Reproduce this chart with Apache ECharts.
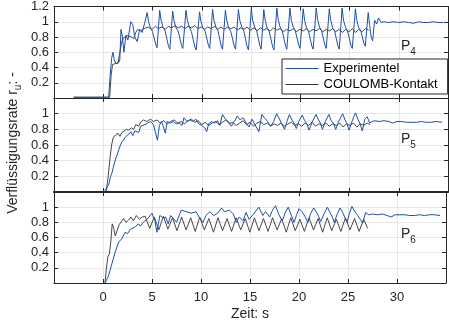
<!DOCTYPE html>
<html><head><meta charset="utf-8">
<script src="https://cdn.jsdelivr.net/npm/echarts@6/dist/echarts.min.js"></script>
<style>html,body{margin:0;padding:0;background:#fff}#c{width:449px;height:322px}</style>
</head><body><div id="c"></div>
<script>
// ---------- data (time in s, ratio r_u) ----------
const xTicks = [0, 5, 10, 15, 20, 25, 30];
const panelLabels = ['4', '5', '6'];
const seriesNames = ['Experimentel', 'COULOMB-Kontakt'];

// P4 experimental
const p4ExpT = [-3,0.55,0.7,0.85,0.98,1.12,1.3,1.55,1.68,1.8,1.95,2.1,2.3,2.5,2.8,3.0,3.2,3.45,3.7,3.95,4.2,4.46,
 4.6,4.8,5.0,5.2,5.34,5.46,5.73, 5.87,6.07,6.28,6.48,6.62,6.76,7.05, 7.19,7.39,7.6,7.8,7.95,8.08,8.4,
 8.54,8.74,8.95,9.15,9.3,9.44,9.78, 9.92,10.12,10.33,10.53,10.68,10.81,11.1, 11.24,11.44,11.65,11.85,11.98,12.11,12.4,
 12.54,12.74,12.95,13.15,13.3,13.43,13.72, 13.86,14.06,14.27,14.47,14.61,14.74,15.03, 15.17,15.37,15.58,15.78,15.91,16.03,16.3,
 16.44,16.64,16.85,17.05,17.2,17.33,17.62, 17.76,17.96,18.17,18.37,18.51,18.64,18.95, 19.09,19.29,19.5,19.7,19.86,19.98,20.3,
 20.44,20.64,20.85,21.05,21.18,21.31,21.62, 21.76,21.96,22.17,22.37,22.51,22.64,22.95, 23.09,23.29,23.5,23.7,23.83,23.96,24.25,
 24.39,24.59,24.8,25.0,25.15,25.28,25.6, 25.74,25.94,26.15,26.35,26.48,26.6,26.9,
 27.05,27.2,27.35,27.55,27.75,27.95,28.2,28.5, 29,29.5,30,30.5,31,31.5,32,32.5,33,33.5,34,34.5];
const p4ExpV = [0.01,0.01,0.3,0.52,0.6,0.5,0.45,0.46,0.5,0.9,0.8,0.6,0.82,0.76,1.0,0.96,0.8,0.74,0.9,0.86,0.98,1.12,
 1.0,0.92,0.87,0.86,0.7,0.66,1.15, 1.02,0.93,0.88,0.87,0.68,0.64,1.14, 1.01,0.92,0.88,0.88,0.69,0.65,1.15,
 1.02,0.93,0.87,0.87,0.67,0.63,1.13, 1.0,0.92,0.88,0.88,0.69,0.65,1.16, 1.02,0.93,0.88,0.87,0.68,0.64,1.15,
 1.02,0.92,0.87,0.87,0.68,0.64,1.16, 1.02,0.93,0.88,0.88,0.67,0.63,1.17, 1.02,0.93,0.88,0.87,0.68,0.64,1.16,
 1.02,0.92,0.87,0.87,0.67,0.63,1.18, 1.03,0.93,0.88,0.88,0.68,0.64,1.18, 1.02,0.93,0.88,0.87,0.69,0.65,1.17,
 1.02,0.92,0.87,0.87,0.68,0.64,1.18, 1.03,0.93,0.88,0.87,0.69,0.65,1.17, 1.02,0.92,0.87,0.87,0.68,0.64,1.18,
 1.02,0.93,0.88,0.87,0.69,0.65,1.17, 1.02,0.92,0.88,0.87,0.71,0.68,1.12,
 0.95,0.8,0.75,1.02,0.97,1.05,0.99,1.0, 0.99,1.0,0.99,1.0,0.99,0.98,1.0,0.99,0.99,1.0,0.99,0.99];

// P4 COULOMB
const p4CouT = [-3,0.65,0.8,0.95,1.2,1.5,1.7,1.85,2.0,2.2,2.4,2.6,2.85,3.1,3.3,3.5,3.75,4.0,4.3,
 4.6,4.95,5.3,5.6,5.95,6.3,6.6,6.95,7.3,7.6,7.95,8.3,8.6,8.95,9.3,9.6,9.95,10.3,10.6,10.95,11.3,11.6,11.95,12.3,12.6,12.95,
 13.3,13.6,13.95,14.3,14.6,14.95,15.3,15.6,15.95,16.3,16.6,16.95,17.3,17.6,17.95,18.3,18.6,18.95,19.3,19.6,19.95,
 20.3,20.6,20.95,21.3,21.6,21.95,22.3,22.6,22.95,23.3,23.6,23.95,24.3,24.6,24.95,25.3,25.6,25.95,26.3,26.6,26.95];
const p4CouV = [0.01,0.01,0.3,0.44,0.45,0.46,0.47,0.72,0.78,0.76,0.82,0.8,0.8,0.78,0.86,0.9,0.88,0.9,0.92,
 0.93,0.9,0.94,0.91,0.93,0.9,0.94,0.92,0.95,0.92,0.94,0.91,0.94,0.92,0.95,0.91,0.93,0.9,0.93,0.91,0.94,0.9,0.93,0.9,0.93,0.91,
 0.93,0.89,0.92,0.9,0.93,0.89,0.92,0.88,0.92,0.89,0.91,0.88,0.92,0.89,0.91,0.87,0.9,0.88,0.91,0.87,0.9,
 0.88,0.91,0.87,0.9,0.88,0.91,0.87,0.9,0.88,0.91,0.87,0.9,0.86,0.9,0.87,0.91,0.86,0.9,0.87,0.91,0.89];

// P5 experimental
const p5ExpT = [0.05,0.3,0.57,0.75,0.9,1.05,1.25,1.4,1.6,1.75,1.9,2.1,2.25,2.4,2.6,2.8,3.0,3.2,3.4,3.6,3.8,4.0,4.25,4.5,4.8,
 5.1,5.3,5.5,5.7,5.9,6.1,6.3,6.5,6.8,7.1,7.4,7.7,8.0,8.2,8.5,8.8,9.1,9.4,9.7,10.0,10.3,10.5,10.7,11.0,11.3,11.6,11.85,
 12.1,12.4,12.7,13.0,13.3,13.6,13.9,14.2,14.5,14.8,15.1,15.4,15.8,16.1,16.4,16.7,17.0,17.3,17.6,17.9,18.15,18.4,18.65,
 18.9,19.15,19.4,19.6,19.85,20.2,20.45,20.7,20.9,21.2,21.6,21.85,22.05,22.25,22.55,22.9,23.15,23.4,23.6,23.9,24.3,24.55,
 24.75,24.95,25.25,25.6,25.85,26.05,26.3,26.55,26.8,27.05,27.3,27.6,28.0,28.5,29.0,29.4,29.8,30.3,30.8,31.3,31.8,32.3,
 32.8,33.3,33.8,34.4];
const p5ExpV = [0,0.04,0.1,0.2,0.25,0.33,0.42,0.47,0.55,0.6,0.64,0.66,0.7,0.68,0.74,0.77,0.72,0.78,0.8,0.76,0.84,0.82,0.86,0.88,0.9,
 0.86,0.88,0.66,0.85,0.9,0.84,0.75,0.9,0.88,0.9,0.87,0.88,0.85,0.95,0.9,0.92,0.9,0.93,0.87,0.85,0.82,0.77,0.87,0.9,0.88,0.91,0.85,
 0.99,0.93,0.9,0.84,0.9,0.97,0.92,0.95,0.88,0.83,0.93,0.86,0.77,0.99,0.94,0.9,0.84,0.9,1.0,0.93,0.86,0.8,0.9,
 0.99,0.92,0.87,0.81,0.9,0.98,0.91,0.86,0.79,0.89,0.99,0.92,0.88,0.8,0.9,0.99,0.91,0.87,0.8,0.9,1.0,0.92,
 0.87,0.79,0.9,1.01,0.93,0.88,0.78,0.93,0.96,0.88,0.9,0.91,0.9,0.91,0.9,0.88,0.9,0.9,0.89,0.89,0.89,0.9,
 0.89,0.89,0.9,0.89];

// P5 COULOMB
const p5CouT = [0.3,0.5,0.7,0.85,1.0,1.25,1.5,1.7,1.9,2.1,2.35,2.6,2.85,3.1,3.3,3.6,3.85,4.1,4.4,4.8,
 5.1,5.45,5.8,6.15,6.5,6.85,7.2,7.55,7.9,8.25,8.6,8.95,9.3,9.65,10.0,10.35,10.7,11.05,11.4,11.75,12.1,12.45,12.8,13.15,
 13.5,13.85,14.2,14.55,14.9,15.25,15.6,15.95,16.3,16.65,17.0,17.35,17.7,18.05,18.4,18.75,19.1,19.45,19.8,20.15,20.5,
 20.85,21.2,21.55,21.9,22.25,22.6,22.95,23.3,23.65,24.0,24.35,24.7,25.05,25.4,25.75,26.1,26.45,26.8,27.05];
const p5CouV = [0,0.2,0.45,0.6,0.69,0.73,0.75,0.71,0.76,0.74,0.8,0.79,0.82,0.8,0.86,0.84,0.9,0.92,0.9,0.93,
 0.9,0.92,0.88,0.91,0.87,0.9,0.92,0.88,0.9,0.87,0.91,0.93,0.89,0.91,0.86,0.89,0.85,0.88,0.9,0.86,0.89,0.92,0.87,0.89,
 0.85,0.88,0.91,0.86,0.89,0.84,0.88,0.9,0.86,0.88,0.84,0.87,0.85,0.88,0.84,0.87,0.89,0.85,0.87,0.84,0.88,
 0.85,0.89,0.84,0.87,0.85,0.88,0.84,0.87,0.85,0.88,0.83,0.87,0.85,0.88,0.83,0.87,0.85,0.88,0.86];

// P6 experimental
const p6ExpT = [0.2,0.4,0.57,0.9,1.25,1.6,1.9,2.26,2.5,2.8,3.0,3.3,3.6,3.8,4.1,4.4,4.7,5.0,5.3,5.5,5.8,6.1,6.4,6.65,6.9,7.2,
 7.5,7.8,8.0,8.5,9.0,9.5,9.8,10.2,10.5,10.9,11.3,11.7,12.1,12.4,12.9,13.3,13.6,13.9,14.3,14.6,14.9,15.3,15.9,16.3,16.6,
 17.0,17.3,17.6, 17.95,18.3,18.6,18.9,19.2,19.5,19.75,20.0,20.3,20.6,20.9,21.2,21.5,21.8,22.0,22.2,22.55,22.9,23.2,23.4,
 23.6,23.9,24.2,24.45,24.7,24.9,25.15,25.4,25.7,26.0,26.25,26.5,26.8,27.1,
 27.5,28.0,28.5,29.0,29.4,29.8,30.3,30.8,31.3,31.8,32.3,32.8,33.3,33.8,34.4];
const p6ExpV = [0,0.05,0.1,0.25,0.41,0.54,0.58,0.67,0.65,0.71,0.69,0.74,0.78,0.75,0.8,0.83,0.87,0.92,0.82,0.67,0.89,0.86,0.87,0.78,0.89,0.85,
 0.8,0.9,0.96,0.94,0.92,0.94,0.87,0.8,0.89,0.94,0.89,0.92,0.99,0.94,0.96,0.91,0.8,0.87,0.82,0.93,0.84,0.9,1.0,0.89,0.94,
 0.87,0.96,1.02, 0.9,0.82,0.93,1.0,0.9,0.8,0.9,0.98,0.94,0.88,0.8,0.92,0.99,0.93,0.88,0.81,0.91,1.0,0.92,0.87,
 0.8,0.91,0.99,0.93,0.86,0.8,0.92,1.01,0.94,0.89,0.84,0.79,0.93,0.9,
 0.91,0.9,0.91,0.89,0.87,0.9,0.9,0.9,0.89,0.89,0.9,0.89,0.9,0.9,0.89];

// P6 COULOMB
const p6CouT = [0.2,0.35,0.5,0.65,0.8,0.94,1.1,1.25,1.45,1.65,1.85,2.1,2.35,2.6,2.85,3.1,3.4,3.7,4.0,
 4.3,4.77,5.23,5.7,6.16,6.62,7.09,7.55,8.02,8.48,8.95,9.41,9.87,10.34,10.8,11.27,11.73,12.2,12.66,13.12,13.59,14.05,
 14.52,14.98,15.45,15.91,16.38,16.84,17.3,17.77,18.23,18.7,19.16,19.62,20.09,20.55,21.02,21.48,21.95,22.41,22.88,23.34,
 23.81,24.27,24.74,25.2,25.67,26.13,26.6,27.0];
const p6CouV = [0,0.2,0.35,0.38,0.55,0.78,0.72,0.62,0.64,0.77,0.78,0.85,0.8,0.83,0.87,0.82,0.89,0.84,0.87,
 0.88,0.72,0.87,0.7,0.88,0.71,0.86,0.69,0.87,0.7,0.86,0.68,0.87,0.7,0.85,0.67,0.86,0.69,0.85,0.68,0.86,0.7,
 0.85,0.67,0.86,0.69,0.85,0.68,0.86,0.7,0.85,0.67,0.86,0.69,0.84,0.68,0.86,0.7,0.85,0.67,0.86,0.69,
 0.84,0.68,0.86,0.7,0.85,0.68,0.84,0.72];

// ---------- chart ----------
function zip(t, v) {
  const n = Math.min(t.length, v.length);
  if (t.length !== v.length) console.warn('length mismatch', t.length, v.length);
  const out = [];
  for (let i = 0; i < n; i++) out.push([t[i], v[i]]);
  return out;
}
const FONT = '"Liberation Sans", Arial, Helvetica, sans-serif';
const AX = '#262626';
const GRIDC = '#e6e6e6';
const BLUE = '#1d4fac';
const BLACK = '#333333';

const grids = [
  { left: 54, top: 6, width: 394, height: 92 },
  { left: 54, top: 98, width: 394, height: 94 },
  { left: 54, top: 192, width: 394, height: 92 }
];
const fmt = v => String(+(+v).toFixed(1));

const xAxes = [], yAxes = [];
for (let i = 0; i < 3; i++) {
  xAxes.push({
    gridIndex: i, type: 'value', min: -5, max: 35, interval: 5, position: 'bottom',
    axisLine: { show: true, onZero: false, lineStyle: { color: AX, width: i === 1 ? 2 : 1 } },
    axisTick: { show: true, inside: true, length: 4, lineStyle: { color: AX } },
    axisLabel: { show: i === 2, fontSize: 13, fontFamily: FONT, color: AX, margin: 8,
      formatter: v => xTicks.includes(v) ? String(v) : '' },
    splitLine: { show: true, lineStyle: { color: GRIDC, width: 1 } },
    name: i === 2 ? 'Zeit: s' : '', nameLocation: 'middle', nameGap: 24,
    nameTextStyle: { fontSize: 14, fontFamily: FONT, color: AX }
  });
  yAxes.push({
    gridIndex: i, type: 'value', min: 0, max: 1.2, interval: 0.2, position: 'left',
    axisLine: { show: true, onZero: false, lineStyle: { color: AX } },
    axisTick: { show: true, inside: true, length: 4, lineStyle: { color: AX } },
    axisLabel: { fontSize: 13, fontFamily: FONT, color: AX, margin: 5,
      formatter: v => (v < 0.1 || (i > 0 && v > 1.1)) ? '' : fmt(v) },
    splitLine: { show: true, lineStyle: { color: GRIDC, width: 1 } }
  });
}
for (let i = 0; i < 3; i++) {
  xAxes.push({
    gridIndex: i, type: 'value', min: -5, max: 35, interval: 5, position: 'top',
    axisLine: { show: true, onZero: false, lineStyle: { color: AX } },
    axisTick: { show: true, inside: true, length: 4, lineStyle: { color: AX } },
    axisLabel: { show: false }, splitLine: { show: false }
  });
  yAxes.push({
    gridIndex: i, type: 'value', min: 0, max: 1.2, interval: 0.2, position: 'right',
    axisLine: { show: true, onZero: false, lineStyle: { color: AX } },
    axisTick: { show: true, inside: true, length: 4, lineStyle: { color: AX } },
    axisLabel: { show: false }, splitLine: { show: false }
  });
}

const panels = [
  [zip(p4ExpT, p4ExpV), zip(p4CouT, p4CouV)],
  [zip(p5ExpT, p5ExpV), zip(p5CouT, p5CouV)],
  [zip(p6ExpT, p6ExpV), zip(p6CouT, p6CouV)]
];
const series = [];
for (let i = 0; i < 3; i++) {
  series.push({
    name: seriesNames[1], type: 'line', xAxisIndex: i, yAxisIndex: i, data: panels[i][1],
    symbol: 'none', showSymbol: false, lineStyle: { color: BLACK, width: 0.9 }, itemStyle: { color: BLACK }, z: 2
  });
  series.push({
    name: seriesNames[0], type: 'line', xAxisIndex: i, yAxisIndex: i, data: panels[i][0],
    symbol: 'none', showSymbol: false, lineStyle: { color: BLUE, width: 1 }, itemStyle: { color: BLUE }, z: 3
  });
}

const pPos = [[401, 46], [401, 139], [401, 234]];
const graphics = pPos.map((p, i) => ({
  type: 'text', x: p[0], y: p[1], z: 20,
  style: {
    text: '{p|P}{s|' + panelLabels[i] + '}', verticalAlign: 'middle', align: 'left',
    rich: {
      p: { fontSize: 14, fontFamily: FONT, fill: AX },
      s: { fontSize: 10, fontFamily: FONT, fill: AX, padding: [12, 0, 0, 0] }
    }
  }
}));
graphics.push({
  type: 'text', x: 13, y: 143, rotation: Math.PI / 2, z: 20,
  style: {
    text: '{a|Verflüssigungsrate r}{b|u}{a|: -}', align: 'center', verticalAlign: 'middle',
    rich: {
      a: { fontSize: 14, fontFamily: FONT, fill: AX },
      b: { fontSize: 10, fontFamily: FONT, fill: AX, padding: [10, 0, 0, 0] }
    }
  }
});

const chart = echarts.init(document.getElementById('c'), null, { renderer: 'canvas' });
chart.setOption({
  animation: false,
  backgroundColor: '#fff',
  grid: grids,
  xAxis: xAxes,
  yAxis: yAxes,
  legend: {
    data: seriesNames, orient: 'vertical', left: 282, top: 59,
    backgroundColor: '#fff', borderColor: AX, borderWidth: 1, borderRadius: 0,
    padding: [3, 10, 3, 3], itemGap: 3, itemWidth: 33, itemHeight: 13,
    itemStyle: { opacity: 0 },
    lineStyle: { width: 1 },
    textStyle: { fontSize: 13, fontFamily: FONT, color: '#000' }, z: 10
  },
  graphic: graphics,
  series: series
});
</script></body></html>
